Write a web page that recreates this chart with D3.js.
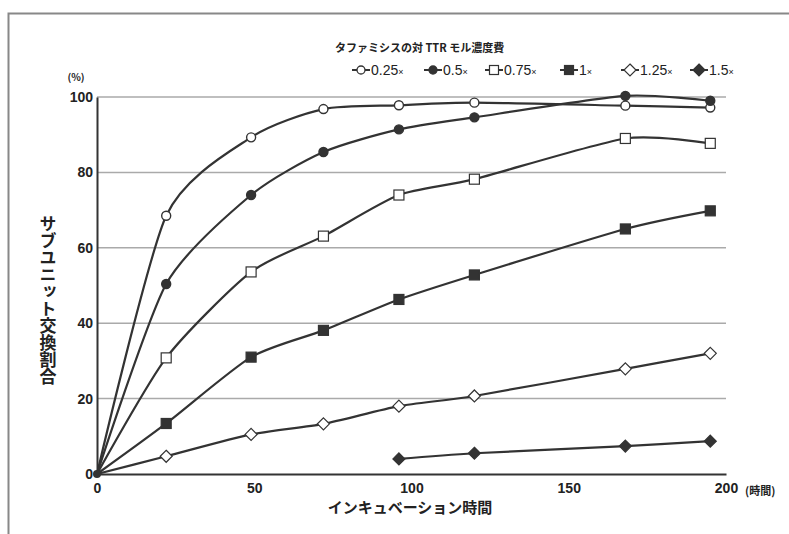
<!doctype html>
<html>
<head>
<meta charset="utf-8">
<script src="https://cdn.jsdelivr.net/npm/d3@7"></script>
<style>
  body { margin: 0; background: #fff; }
  text { font-family: "Noto Sans CJK JP", "Liberation Sans", sans-serif; fill: #222; }
</style>
</head>
<body>
<svg id="chart" width="789" height="534"></svg>
<script>
// data (hours, % exchanged)
const hours = [0, 22, 49, 72, 96, 120, 168, 195];
const hoursLate = [96, 120, 168, 195];
const conc025 = [0, 68.5, 89.3, 96.8, 97.8, 98.5, 97.7, 97.2];
const conc05 = [0, 50.4, 74, 85.4, 91.4, 94.6, 100.3, 99];
const conc075 = [0, 30.8, 53.6, 63.1, 74, 78.2, 89, 87.7];
const conc1 = [0, 13.4, 31, 38.1, 46.3, 52.8, 65, 69.8];
const conc125 = [0, 4.7, 10.5, 13.3, 18, 20.7, 27.9, 32];
const conc15 = [4, 5.5, 7.4, 8.7];
const seriesNames = ["0.25", "0.5", "0.75", "1", "1.25", "1.5"];
const xTicks = [0, 50, 100, 150, 200];
const yTicks = [0, 20, 40, 60, 80, 100];

const series = [
  { name: seriesNames[0], x: hours, y: conc025, shape: "circle", fill: "#fff" },
  { name: seriesNames[1], x: hours, y: conc05, shape: "circle", fill: "#333" },
  { name: seriesNames[2], x: hours, y: conc075, shape: "square", fill: "#fff" },
  { name: seriesNames[3], x: hours, y: conc1, shape: "square", fill: "#333" },
  { name: seriesNames[4], x: hours, y: conc125, shape: "diamond", fill: "#fff" },
  { name: seriesNames[5], x: hoursLate, y: conc15, shape: "diamond", fill: "#333" }
];

const svg = d3.select("#chart");
const ink = "#333";

// outer frame (left + top only visible)
svg.append("path")
  .attr("d", "M8.5,534 V13.5 H789")
  .attr("fill", "none")
  .attr("stroke", "#888")
  .attr("stroke-width", 2);

const x = d3.scaleLinear().domain([0, 200]).range([97, 726]);
const y = d3.scaleLinear().domain([0, 100]).range([474, 97]);

// gridlines
svg.append("g")
  .selectAll("line")
  .data(yTicks.filter(d => d > 0))
  .join("line")
  .attr("x1", x(0)).attr("x2", x(200))
  .attr("y1", d => y(d)).attr("y2", d => y(d))
  .attr("stroke", "#aaa")
  .attr("stroke-width", 1.5);

// axes
let xAxis = svg.append("g")
  .attr("transform", "translate(0," + y(0) + ")")
  .call(d3.axisBottom(x).tickValues(xTicks).tickSize(0).tickPadding(9));
xAxis.select(".domain").attr("stroke", ink).attr("stroke-width", 2);
xAxis.selectAll("text")
  .attr("font-size", "14px").attr("font-weight", "bold")
  .style("font-family", "'Liberation Sans', sans-serif").attr("fill", "#222");

let yAxis = svg.append("g")
  .attr("transform", "translate(" + x(0) + ",0)")
  .call(d3.axisLeft(y).tickValues(yTicks).tickSize(0).tickPadding(4));
yAxis.select(".domain").attr("stroke", ink).attr("stroke-width", 2);
yAxis.selectAll("text")
  .attr("font-size", "14px").attr("font-weight", "bold")
  .style("font-family", "'Liberation Sans', sans-serif").attr("fill", "#222");

// unit labels
svg.append("text")
  .attr("x", 76).attr("y", 81)
  .attr("text-anchor", "middle")
  .attr("font-size", "10px").attr("font-weight", "bold")
  .text("(%)");
svg.append("text")
  .attr("x", 745).attr("y", 495)
  .attr("font-size", "11px").attr("font-weight", "bold")
  .text("(時間)");

// axis titles
svg.append("text")
  .attr("x", 410).attr("y", 513)
  .attr("text-anchor", "middle")
  .attr("font-size", "15px").attr("font-weight", "bold")
  .text("インキュベーション時間");

svg.append("text")
  .attr("x", 48).attr("y", 300)
  .attr("text-anchor", "middle")
  .attr("font-size", "17px").attr("font-weight", "bold")
  .style("writing-mode", "vertical-rl")
  .style("text-orientation", "upright")
  .text("サブユニット交換割合");

// markers
function marker(g, shape, fill, cx, cy) {
  if (shape === "circle") {
    g.append("circle").attr("cx", cx).attr("cy", cy).attr("r", 4.5)
      .attr("fill", fill).attr("stroke", ink).attr("stroke-width", 1.4);
  } else if (shape === "square") {
    g.append("rect").attr("x", cx - 5).attr("y", cy - 5).attr("width", 10).attr("height", 10)
      .attr("fill", fill).attr("stroke", ink).attr("stroke-width", 1.2);
  } else {
    g.append("path").attr("d", `M${cx},${cy - 6}L${cx + 6},${cy}L${cx},${cy + 6}L${cx - 6},${cy}Z`)
      .attr("fill", fill).attr("stroke", ink).attr("stroke-width", 1.2);
  }
}

const line = d3.line()
  .x(d => x(d[0]))
  .y(d => y(d[1]))
  .curve(d3.curveCardinal.tension(0.3));

const plot = svg.append("g");
series.forEach(s => {
  const pts = s.x.map((h, i) => [h, s.y[i]]);
  plot.append("path")
    .datum(pts)
    .attr("d", line)
    .attr("fill", "none")
    .attr("stroke", ink)
    .attr("stroke-width", 2.2);
});
series.forEach(s => {
  const g = plot.append("g");
  s.x.forEach((h, i) => {
    if (h === 0) return;
    marker(g, s.shape, s.fill, x(h), y(s.y[i]));
  });
});
// dot at origin
plot.append("circle").attr("cx", x(0)).attr("cy", y(0)).attr("r", 4).attr("fill", ink);

// legend
svg.append("text")
  .attr("x", 335).attr("y", 52)
  .attr("font-size", "11px").attr("font-weight", "bold")
  .text("タファミシスの対 TTR モル濃度費");

const legendX = [361, 433, 494, 569, 630, 699];
const legend = svg.append("g");
series.forEach((s, i) => {
  const cx = legendX[i];
  legend.append("line")
    .attr("x1", cx - 9).attr("x2", cx + 9)
    .attr("y1", 70).attr("y2", 70)
    .attr("stroke", ink).attr("stroke-width", 2);
  const g = legend.append("g");
  if (s.shape === "circle") {
    g.append("circle").attr("cx", cx).attr("cy", 70).attr("r", 4)
      .attr("fill", s.fill).attr("stroke", ink).attr("stroke-width", 1.3);
  } else if (s.shape === "square") {
    g.append("rect").attr("x", cx - 4.5).attr("y", 65.5).attr("width", 9).attr("height", 9)
      .attr("fill", s.fill).attr("stroke", ink).attr("stroke-width", 1.2);
  } else {
    g.append("path").attr("d", `M${cx},64L${cx + 6},70L${cx},76L${cx - 6},70Z`)
      .attr("fill", s.fill).attr("stroke", ink).attr("stroke-width", 1.2);
  }
  const t = legend.append("text")
    .attr("x", cx + 10).attr("y", 75)
    .attr("font-size", "14px")
    .style("font-family", "'Liberation Sans', sans-serif");
  t.append("tspan").text(s.name);
  t.append("tspan").attr("font-size", "9px").text("×");
});
</script>
</body>
</html>
